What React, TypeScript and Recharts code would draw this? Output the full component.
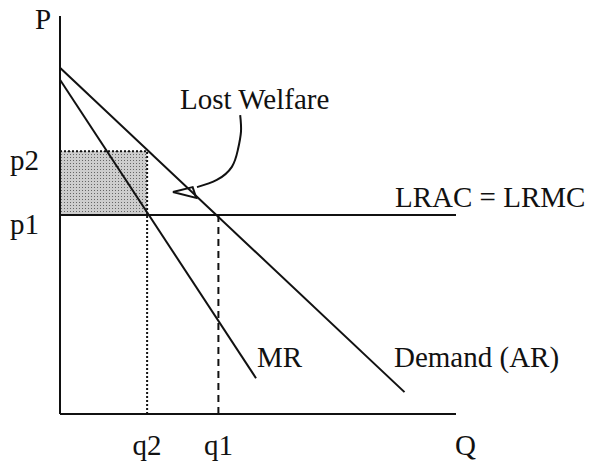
import {
  ComposedChart,
  Line,
  XAxis,
  YAxis,
  ReferenceLine,
  ReferenceArea,
} from 'recharts';

// demand (AR) and marginal revenue, quantity q vs price p
const demandData = [
  { q: 0, p: 87 },
  { q: 87, p: 5.5 },
];
const mrData = [
  { q: 0, p: 84 },
  { q: 49.5, p: 9 },
];

// cost level and the two equilibria
const costLevel = 50; // p1, LRAC = LRMC
const monoPrice = 66; // p2
const monoQty = 22; // q2
const compQty = 40; // q1

const priceTicks = [costLevel, monoPrice];
const priceLabels = ['p1', 'p2'];
const qtyTicks = [monoQty, compQty];
const qtyLabels = ['q2', 'q1'];

// "Lost Welfare" pointer, in chart units
const arrowCurve = [
  { q: 34.6, p: 57.0 },
  { q: 39.6, p: 58.8 },
  { q: 43.4, p: 62.1 },
  { q: 44.9, p: 66.3 },
  { q: 45.7, p: 70.9 },
  { q: 45.5, p: 75.1 },
];
const arrowHead = [
  { q: 28.5, p: 55.8 },
  { q: 33.5, p: 57.0 },
  { q: 34.4, p: 54.3 },
  { q: 28.5, p: 55.8 },
];

const ink = '#111';
const font = '"Liberation Serif", "Times New Roman", serif';

const YTick = (props: any) => {
  const i = priceTicks.indexOf(props.payload.value);
  return (
    <text x={39} y={props.y + 19} textAnchor="end" fontSize={29} fontFamily={font} fill={ink}>
      {priceLabels[i]}
    </text>
  );
};

const XTick = (props: any) => {
  const i = qtyTicks.indexOf(props.payload.value);
  return (
    <text x={props.x} y={455} textAnchor="middle" fontSize={29} fontFamily={font} fill={ink}>
      {qtyLabels[i]}
    </text>
  );
};

const txt = { fontSize: 29, fontFamily: font, fill: ink };

export default function App() {
  return (
    <div style={{ position: 'absolute', left: 0, top: 0, background: '#fff' }}>
      <ComposedChart
        width={596}
        height={471}
        margin={{ top: 16, right: 140, bottom: 0, left: 0 }}
      >
        <defs>
          <pattern id="stipple" width="3" height="3" patternUnits="userSpaceOnUse">
            <rect width="3" height="3" fill="#cdcdcd" />
            <rect x="1" y="1" width="1" height="1" fill="#666" />
          </pattern>
        </defs>
        <XAxis
          type="number"
          dataKey="q"
          domain={[0, 100]}
          ticks={qtyTicks}
          tick={<XTick />}
          tickLine={false}
          tickSize={0}
          height={57}
          axisLine={{ stroke: ink, strokeWidth: 2 }}
        />
        <YAxis
          type="number"
          dataKey="p"
          domain={[0, 100]}
          ticks={priceTicks}
          tick={<YTick />}
          tickLine={false}
          tickSize={0}
          width={60}
          axisLine={{ stroke: ink, strokeWidth: 2 }}
        />
        <ReferenceArea
          x1={0}
          x2={monoQty}
          y1={costLevel}
          y2={monoPrice}
          fill="url(#stipple)"
          fillOpacity={1}
          stroke="none"
        />
        <ReferenceLine
          segment={[{ x: 0, y: monoPrice }, { x: monoQty, y: monoPrice }]}
          stroke={ink}
          strokeWidth={2}
          strokeDasharray="2 2"
        />
        <ReferenceLine
          segment={[{ x: monoQty, y: 0 }, { x: monoQty, y: monoPrice }]}
          stroke={ink}
          strokeWidth={2}
          strokeDasharray="2 2"
        />
        <ReferenceLine
          segment={[{ x: compQty, y: 0 }, { x: compQty, y: costLevel }]}
          stroke={ink}
          strokeWidth={2}
          strokeDasharray="7 5"
        />
        <ReferenceLine y={costLevel} stroke={ink} strokeWidth={2} />
        <Line data={demandData} dataKey="p" type="linear" stroke={ink} strokeWidth={2} dot={false} isAnimationActive={false} />
        <Line data={mrData} dataKey="p" type="linear" stroke={ink} strokeWidth={2} dot={false} isAnimationActive={false} />
        <Line data={arrowCurve} dataKey="p" type="natural" stroke={ink} strokeWidth={2} dot={false} isAnimationActive={false} />
        <Line data={arrowHead} dataKey="p" type="linear" stroke={ink} strokeWidth={2} dot={false} isAnimationActive={false} />
        <text x={35} y={29} {...txt}>P</text>
        <text x={455} y={455} {...txt}>Q</text>
        <text x={180} y={109} {...txt}>Lost Welfare</text>
        <text x={395} y={207} {...txt}>LRAC = LRMC</text>
        <text x={257} y={367} {...txt}>MR</text>
        <text x={394} y={367} {...txt}>Demand (AR)</text>
      </ComposedChart>
    </div>
  );
}
